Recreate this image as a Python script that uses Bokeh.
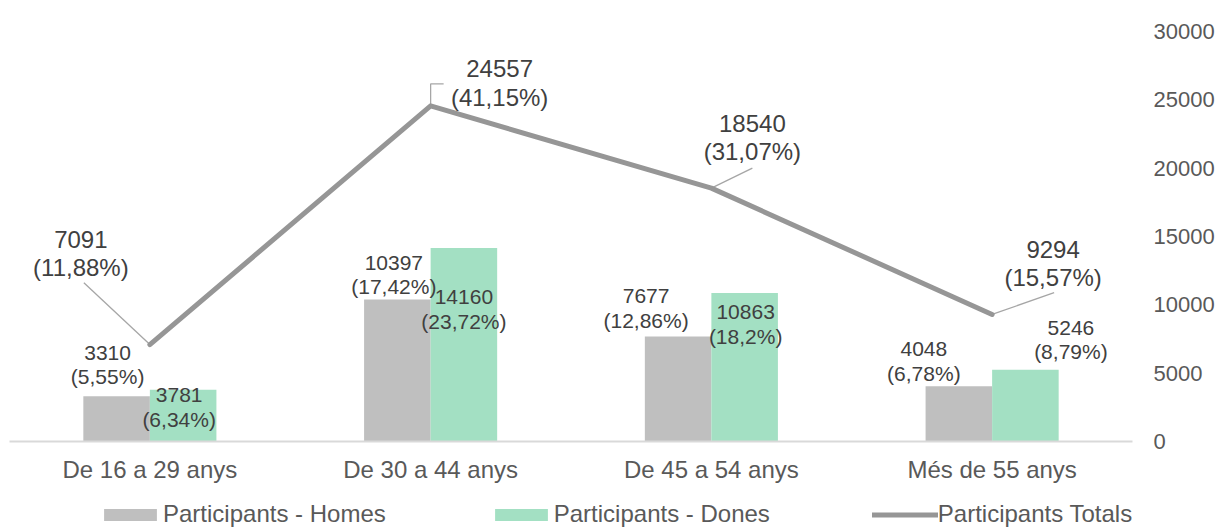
from bokeh.plotting import figure
from bokeh.layouts import column
from bokeh.models import (Range1d, FixedTicker, Legend, LegendItem,
                          ColumnDataSource)
from bokeh.core.properties import value
from bokeh.embed import file_html
from bokeh.resources import INLINE

# --- data -------------------------------------------------------------
categories = ["De 16 a 29 anys", "De 30 a 44 anys", "De 45 a 54 anys", "Més de 55 anys"]
homes = [3310, 10397, 7677, 4048]
homes_pct = ["5,55%", "17,42%", "12,86%", "6,78%"]
dones = [3781, 14160, 10863, 5246]
dones_pct = ["6,34%", "23,72%", "18,2%", "8,79%"]
totals = [7091, 24557, 18540, 9294]
totals_pct = ["11,88%", "41,15%", "31,07%", "15,57%"]
y_ticks = [0, 5000, 10000, 15000, 20000, 25000, 30000]
series_names = ["Participants - Homes", "Participants - Dones", "Participants Totals"]

# --- styling ----------------------------------------------------------
FONT_NAME = "Liberation Sans"
FONT = value(FONT_NAME)
GREY = "#bfbfbf"
GREEN = "#a3e0c3"
LINE = "#969696"
LABEL_DARK = "#404040"
AXIS_TXT = "#595959"

W = 1221
H_MAIN, H_LEG = 485, 43
BL, BR, BT, BB = 9, 89, 31, 43
FRAME_W = W - BL - BR
FRAME_H = H_MAIN - BT - BB
Y_MAX = 30000
PX_X = len(categories) / FRAME_W      # data units per pixel (x)
PX_Y = Y_MAX / FRAME_H                # data units per pixel (y)

BAR_W = 0.237
centers = [i + 0.5 for i in range(len(categories))]
x_h = [c - BAR_W / 2 for c in centers]
x_d = [c + BAR_W / 2 for c in centers]

# label placement (screen pixels, relative to the anchoring mark)
homes_dx = [-9, -3.5, -32, -35]
homes_dy = [-32, -25, -28.5, -25]
dones_dx = [-4, 0, 1, 45.5]
dones_dy = [17, 61, 31, -30]
totals_dx = [-69, 69, 41, 61]
totals_dy = [-91, -23, -50.5, -51]
# leader paths from each line point toward its label (screen pixels)
leader_paths = [
    [(0, 0), (-66, -62)],
    [(0, 0), (0, -22), (13, -22)],
    [(0, 0), (41, -20)],
    [(0, 0), (62, -22)],
]

p = figure(width=W, height=H_MAIN, x_range=Range1d(0, len(categories)),
           y_range=Range1d(0, Y_MAX), y_axis_location="right",
           output_backend="svg", toolbar_location=None,
           min_border_left=BL, min_border_right=BR,
           min_border_top=BT, min_border_bottom=BB)
p.outline_line_color = None
p.grid.visible = False
p.background_fill_color = "white"
p.border_fill_color = "white"

# bars
p.vbar(x=x_h, top=homes, width=BAR_W, fill_color=GREY, line_color=None)
p.vbar(x=x_d, top=dones, width=BAR_W, fill_color=GREEN, line_color=None)

# leader lines
xs, ys = [], []
for c, t, path in zip(centers, totals, leader_paths):
    xs.append([c + dx * PX_X for dx, _ in path])
    ys.append([t - dy * PX_Y for _, dy in path])
p.multi_line(xs=xs, ys=ys, line_color="#a6a6a6", line_width=1.3)

# total line
p.line(x=centers, y=totals, line_color=LINE, line_width=5,
       line_join="round", line_cap="round")

# labels
def add_labels(x, y, vals, pcts, dx, dy, size):
    src = ColumnDataSource(dict(
        x=x, y=y, dx=dx, dy=dy,
        text=[f"{v}\n({pc})" for v, pc in zip(vals, pcts)]))
    p.text(x="x", y="y", text="text", x_offset="dx", y_offset="dy", source=src,
           text_align="center", text_baseline="middle", text_font=FONT,
           text_font_size=size, text_color=LABEL_DARK, text_line_height=1.06)

add_labels(x_h, homes, homes, homes_pct, homes_dx, homes_dy, "21px")
add_labels(x_d, dones, dones, dones_pct, dones_dx, dones_dy, "21px")
add_labels(centers, totals, totals, totals_pct, totals_dx, totals_dy, "24px")

# axes
xa = p.xaxis[0]
xa.ticker = FixedTicker(ticks=centers)
xa.major_label_overrides = {c: lab for c, lab in zip(centers, categories)}
xa.axis_line_color = "#d9d9d9"
xa.axis_line_width = 2
xa.major_tick_line_color = None
xa.minor_tick_line_color = None
xa.major_label_standoff = 8
xa.major_label_text_font = FONT_NAME
xa.major_label_text_font_size = "24px"
xa.major_label_text_color = AXIS_TXT

ya = p.yaxis[0]
ya.ticker = FixedTicker(ticks=y_ticks)
ya.axis_line_color = None
ya.major_tick_line_color = None
ya.minor_tick_line_color = None
ya.major_label_standoff = 15
ya.major_label_text_font = FONT_NAME
ya.major_label_text_font_size = "22px"
ya.major_label_text_color = AXIS_TXT

# --- legend strip -----------------------------------------------------
# the key glyphs reuse the series; this strip's y-range lies far above them
leg = figure(width=W, height=H_LEG, x_range=Range1d(0, len(categories)),
             y_range=Range1d(10 * Y_MAX, 10 * Y_MAX + 1),
             output_backend="svg", toolbar_location=None,
             min_border_left=0, min_border_right=0,
             min_border_top=0, min_border_bottom=0)
leg.axis.visible = False
leg.grid.visible = False
leg.outline_line_color = None
leg.background_fill_color = "white"
leg.border_fill_color = "white"
k_h = leg.vbar(x=x_h, top=homes, width=BAR_W, fill_color=GREY, line_color=None)
k_d = leg.vbar(x=x_d, top=dones, width=BAR_W, fill_color=GREEN, line_color=None)
k_t = leg.line(x=centers, y=totals, line_color=LINE, line_width=5, line_cap="round")

legend = Legend(items=[
    LegendItem(label=series_names[0], renderers=[k_h]),
    LegendItem(label=series_names[1], renderers=[k_d]),
    LegendItem(label=series_names[2], renderers=[k_t]),
], orientation="horizontal", location=(88, 0),
   glyph_width=66, glyph_height=15, label_standoff=0, spacing=102,
   padding=0, margin=0, border_line_color=None, background_fill_alpha=0,
   label_text_font=FONT_NAME, label_text_font_size="24px",
   label_text_color=AXIS_TXT)
leg.add_layout(legend, "center")

layout = column(p, leg, spacing=0)
open("out.html", "w").write(file_html(layout, INLINE))
